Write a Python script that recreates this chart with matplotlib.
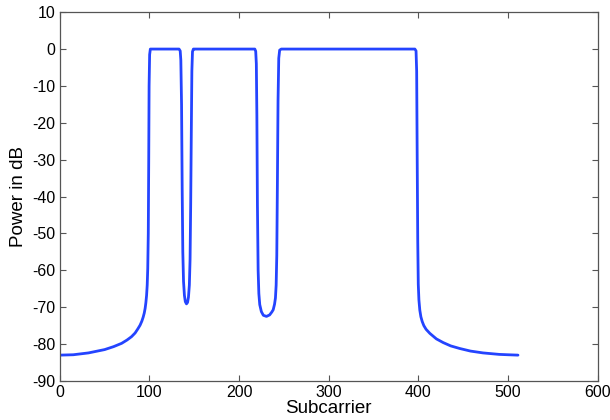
import matplotlib
matplotlib.use('Agg')
import matplotlib.pyplot as plt

# Valores (subportadora, potência em dB)
subportadora = [0, 15, 32, 50, 60, 69, 75, 80, 84, 87, 89.5, 91.5, 93, 94.2, 95.2, 96, 96.8, 97.5, 98.1, 98.7,
                99.2, 99.6, 100.2, 101,
                110, 120, 130, 133, 134.3, 135, 135.8, 136.5, 137.2, 138, 139, 140, 141.3, 142.5, 143.5,
                144.5, 145.3, 146, 146.7, 147.3, 148, 149, 150,
                170, 200, 215, 217.5, 218.5, 219.2, 219.8, 220.4, 221.2, 222, 223, 224.8, 227, 230.5,
                234, 236.5, 238, 239.5, 240.5, 241.3, 242, 242.7, 243.4, 244.2, 245.2, 247,
                280, 320, 360, 390, 396, 397.3, 398, 398.6, 399.2, 399.8, 400.5, 401.5, 402.7, 404.2, 406,
                408.5, 412.7, 420, 427.6, 436, 446, 458, 472, 490, 500, 511]
potencia_db = [-83.0, -82.9, -82.4, -81.5, -80.7, -79.8, -78.9, -78.0, -77.0, -75.9, -74.9, -73.8, -72.7, -71.6,
               -70.3, -68.8, -66.8, -64.0, -59.5, -50,
               -30, -10, -1.5, 0,
               0, 0, 0, 0, -0.5, -3, -15, -38, -55, -63, -66.8, -68.5, -69.1, -68.7, -67.3,
               -64, -57, -42, -22, -6, -0.7, 0, 0,
               0, 0, 0, 0, -0.6, -4, -18, -42, -60, -66.3, -69.3, -71.2, -72.2, -72.5,
               -72.1, -71.3, -70.7, -69.2, -67.5, -64, -56, -36, -14, -2.5, -0.3, 0,
               0, 0, 0, 0, 0, -0.5, -6, -30, -52, -63.8, -68.0, -70.8, -72.6, -73.9, -75.0,
               -76.0, -77.1, -78.6, -79.6, -80.5, -81.2, -81.9, -82.4, -82.8, -82.9, -83.0]

xticks = [0, 100, 200, 300, 400, 500, 600]
yticks = [10, 0, -10, -20, -30, -40, -50, -60, -70, -80, -90]

plt.rcParams['font.family'] = ['Liberation Sans', 'DejaVu Sans']
plt.rcParams['axes.unicode_minus'] = False  # hífen simples, igual ao MATLAB

fig = plt.figure(figsize=(6.1, 4.2), dpi=100)
eixo = fig.add_axes([0.098, 0.093, 0.882, 0.878])

eixo.plot(subportadora, potencia_db, color='#2444ff', linewidth=2.0,
          solid_joinstyle='round', solid_capstyle='round')

eixo.set_xlim(0, 600)
eixo.set_ylim(-90, 10)
eixo.set_xticks(xticks)
eixo.set_yticks(yticks)

# Estilo MATLAB: ticks pra dentro, nos quatro lados
eixo.tick_params(direction='in', top=True, right=True, length=4, width=0.8,
                 color='#555555', labelsize=11.5, pad=3)
for lado in eixo.spines.values():
    lado.set_color('#555555')
    lado.set_linewidth(0.9)

eixo.set_xlabel('Subcarrier', fontsize=13.5, labelpad=0)
eixo.set_ylabel('Power in dB', fontsize=13.5, labelpad=4)

fig.savefig('out.png', dpi=100)
